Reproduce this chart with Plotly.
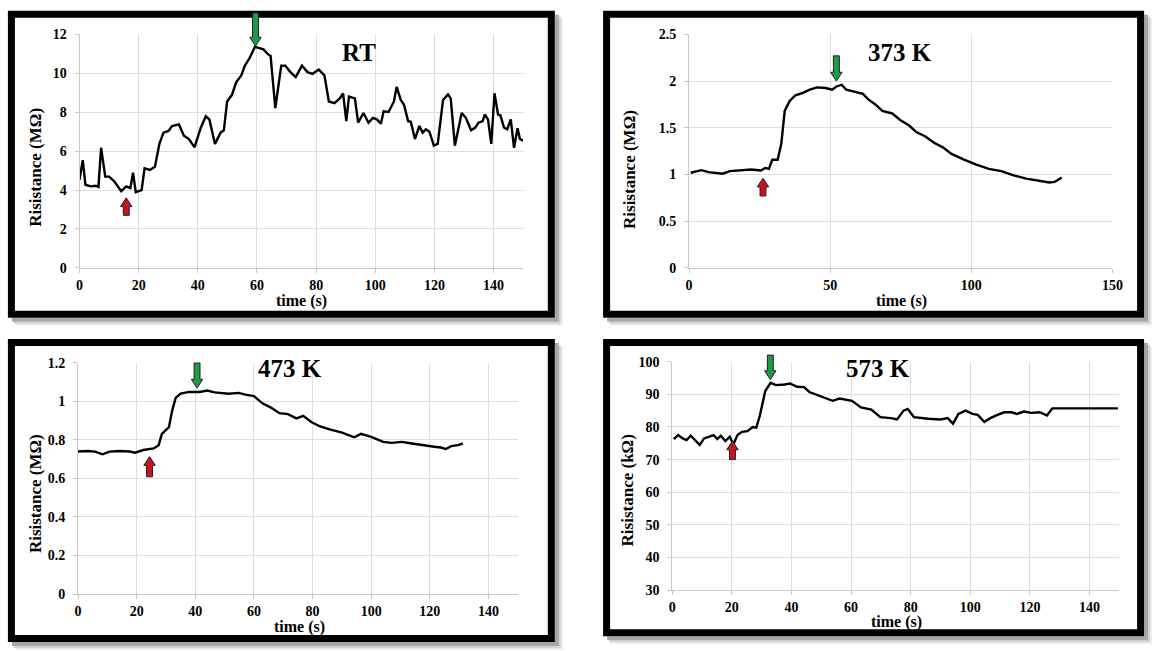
import plotly.graph_objects as go

W, H = 1159, 651

# ---------------- data ----------------
rt_t = [0, 1.1, 2, 3.8, 5.5, 6.4, 7.3, 8.7, 10, 11.8, 14.1, 15.8, 17.2, 18.1, 19, 21, 22, 23.8, 25.5, 27,
        28.4, 30.1, 31.3, 33.6, 35.3, 37, 38.9, 41, 42.7, 43.9, 45.8, 47.7, 48.8, 49.9, 51.5, 53, 54.7, 55.9,
        57.6, 59.3, 60.5, 62.2, 63.7, 64.6, 66.2, 68.2, 69.6, 71.3, 73.1, 75.2, 77.1, 78.8, 80.9, 82.8, 84.3,
        86.2, 88, 89.1, 90.2, 91.1, 93.1, 94.2, 96, 97.7, 99.2, 100.5, 101.9, 102.8, 104.5, 106.3, 107.2,
        108.6, 109.7, 111.1, 112, 113.4, 114.9, 116, 117.1, 118.3, 119.8, 121.1, 122.9, 124.6, 125.5, 126.9,
        129.2, 130.6, 132.4, 133.8, 134.9, 136.3, 137, 138.1, 139.2, 140.3, 141.5, 142.3, 143.5, 144.6,
        145.8, 146.9, 148.1, 148.9, 150]
rt_r = [4.52, 5.53, 4.27, 4.19, 4.22, 4.16, 6.17, 4.69, 4.69, 4.44, 3.94, 4.19, 4.1, 4.89, 3.89, 3.99, 5.11,
        5.03, 5.2, 6.37, 6.95, 7.04, 7.29, 7.37, 6.79, 6.62, 6.2, 7.2, 7.79, 7.63, 6.37, 6.95, 7.07, 8.55,
        8.88, 9.55, 9.89, 10.39, 10.81, 11.36, 11.31, 11.23, 10.98, 10.89, 8.21, 10.39, 10.39, 10.06, 9.8,
        10.39, 10.06, 9.97, 10.19, 9.89, 8.55, 8.46, 8.71, 8.97, 7.54, 8.8, 8.71, 7.46, 7.96, 7.46, 7.71,
        7.63, 7.41, 8.04, 8.01, 8.55, 9.3, 8.63, 8.38, 7.54, 7.51, 6.62, 7.29, 6.95, 7.12, 7.0, 6.28, 6.37,
        8.63, 8.91, 8.71, 6.28, 7.96, 7.71, 7.07, 7.21, 7.46, 7.54, 7.88, 7.63, 6.37, 8.97, 7.88, 7.84, 7.21,
        7.12, 7.63, 6.17, 7.17, 6.62, 6.54]

k373_t = [0.6, 4.4, 6.9, 11.9, 14.5, 18.2, 22, 25.5, 27, 28.3, 29.5, 31.4, 32.7, 33.9, 35.6, 37.7, 40.2,
          42.8, 45.3, 48.4, 50.7, 52.2, 54.1, 55.7, 58.5, 61.6, 63.5, 66, 68.5, 72, 74.8, 78, 80.5, 83.6,
          86.8, 89.9, 93, 97.4, 101.8, 106.2, 110.6, 115, 119.5, 123.9, 127.6, 129.5, 132]
k373_r = [1.018, 1.046, 1.025, 1.008, 1.036, 1.046, 1.053, 1.043, 1.07, 1.06, 1.158, 1.158, 1.332, 1.68,
          1.785, 1.848, 1.872, 1.907, 1.932, 1.925, 1.907, 1.942, 1.96, 1.907, 1.883, 1.862, 1.803, 1.75,
          1.68, 1.653, 1.583, 1.524, 1.454, 1.409, 1.339, 1.29, 1.22, 1.158, 1.105, 1.06, 1.036, 0.99,
          0.955, 0.931, 0.914, 0.92, 0.966]

k473_t = [0, 3.5, 5.8, 8.4, 10.7, 14.2, 17.6, 19.4, 22.3, 25.8, 27.5, 28.6, 31, 32.1, 33.3, 35, 37.9,
          41.4, 44.1, 46.6, 51.3, 54.8, 57.1, 60, 62.9, 65.8, 68.7, 71.6, 74.5, 76.8, 79.7, 82.6, 86.1,
          90.1, 94.2, 96.5, 100, 104.1, 107, 110.4, 113.9, 117.4, 121.5, 123.8, 125.5, 127.3, 129.6, 131.3]
k473_r = [0.739, 0.742, 0.739, 0.725, 0.739, 0.742, 0.739, 0.733, 0.747, 0.755, 0.772, 0.831, 0.865,
          0.95, 1.017, 1.039, 1.048, 1.048, 1.055, 1.046, 1.039, 1.043, 1.034, 1.026, 0.989, 0.967, 0.938,
          0.933, 0.911, 0.924, 0.891, 0.869, 0.853, 0.837, 0.813, 0.831, 0.815, 0.789, 0.784, 0.789, 0.781,
          0.772, 0.764, 0.76, 0.752, 0.767, 0.772, 0.781]

k573_t = [0.5, 2, 3.5, 4.8, 6.2, 8, 9.2, 10.7, 12.7, 13.9, 15.1, 16.3, 17.8, 19.3, 20.5, 21.9, 23.4, 25.2,
          27, 28.2, 29.4, 31.2, 33, 34.8, 37.7, 39.5, 41.9, 44.2, 46, 49, 52, 53.8, 56.1, 60.3, 63.3, 66.8,
          69.8, 73.4, 75.4, 77.6, 79, 81.1, 85.9, 90, 92.4, 94.2, 96, 98.4, 100.7, 102.5, 104.7, 106.7,
          109.1, 111.4, 113.8, 115.6, 118, 120.4, 123.3, 125.7, 127.5, 132.3, 149.5]
k573_r = [76.3, 77.5, 76.5, 76, 77.3, 75.5, 74.5, 76.5, 77, 77.5, 76.3, 77.3, 75.7, 77, 74.7, 77.5, 78.5,
          78.7, 80, 79.8, 83.5, 91, 93.5, 92.8, 93, 93.3, 92.3, 92.2, 90.7, 89.7, 88.5, 88, 88.7, 88, 86,
          85.3, 83, 82.7, 82.3, 85, 85.5, 83, 82.5, 82.3, 82.7, 81, 84, 85, 84, 83.7, 81.5, 82.7, 83.7,
          84.5, 84.5, 84, 84.7, 84.3, 84.5, 83.5, 85.7, 85.7, 85.7]

panel_labels = ["RT", "373 K", "473 K", "573 K"]
y_titles = ["Risistance (M\u03a9)", "Risistance (M\u03a9)", "Risistance (M\u03a9)", "Risistance (k\u03a9)"]
x_title = "time (s)"

x_ticks = [[0, 20, 40, 60, 80, 100, 120, 140], [0, 50, 100, 150],
           [0, 20, 40, 60, 80, 100, 120, 140], [0, 20, 40, 60, 80, 100, 120, 140]]
y_ticks = [[0, 2, 4, 6, 8, 10, 12], [0, 0.5, 1, 1.5, 2, 2.5],
           [0, 0.2, 0.4, 0.6, 0.8, 1, 1.2], [30, 40, 50, 60, 70, 80, 90, 100]]
y_ticktext = [["0", "2", "4", "6", "8", "10", "12"], ["0", "0.5", "1", "1.5", "2", "2.5"],
              ["0", "0.2", "0.4", "0.6", "0.8", "1", "1.2"], ["30", "40", "50", "60", "70", "80", "90", "100"]]
x_ranges = [[0, 150], [0, 150], [0, 150], [0, 150]]
y_ranges = [[0, 12], [0, 2.5], [0, 1.2], [30, 100]]

# label positions (data coords) and arrow (x, tip, tail) in data coords
label_pos = [(94.5, 11.05), (74.7, 2.31), (72.4, 1.17), (69, 98)]
red_arrows = [(15.8, 3.6, 2.7), (26.2, 0.96, 0.77), (24.4, 0.713, 0.608), (20.2, 75.7, 70.0)]
green_arrows = [(59.5, 11.4, 13.1), (52.2, 2.0, 2.27), (40.6, 1.068, 1.198), (32.9, 94.5, 102.0)]

series = [(rt_t, rt_r), (k373_t, k373_r), (k473_t, k473_r), (k573_t, k573_r)]

# ---------------- layout geometry (pixels) ----------------
plot_px = [  # x0, x1, ytop, ybottom
    (76.5, 526, 28, 267),
    (694, 1123, 28, 267),
    (75, 520.5, 364, 601),
    (677, 1130, 363, 597),
]
frame_px = [  # outer x0, x1, y0, y1
    (4, 558, 4, 318),
    (607, 1155, 4, 318),
    (4, 558, 340, 650),
    (607, 1155, 340, 644),
]
ytitle_px = [(32, 164), (633, 166), (32, 498), (632, 495)]
xtitle_px = [(301, 301), (909, 301), (299, 635), (904, 630)]
FRAME_W = 7

SERIF = "Liberation Serif, Times New Roman, serif"


def px2paper(px, py):
    return px / W, 1 - py / H


def data2px(i, xv, yv):
    x0, x1, yt, yb = plot_px[i]
    xr, yr = x_ranges[i], y_ranges[i]
    px = x0 + (xv - xr[0]) / (xr[1] - xr[0]) * (x1 - x0)
    py = yb - (yv - yr[0]) / (yr[1] - yr[0]) * (yb - yt)
    return px, py


def arrow_path(i, xv, ytip, ytail):
    cx, ptip = data2px(i, xv, ytip)
    _, ptail = data2px(i, xv, ytail)
    d = 1 if ptip > ptail else -1
    hl, hw, sw = 9, 5.8, 3.0
    hb = ptip - d * hl
    pts = [(cx - sw, ptail), (cx + sw, ptail), (cx + sw, hb), (cx + hw, hb), (cx, ptip),
           (cx - hw, hb), (cx - sw, hb)]
    s = ""
    for k, (a, b) in enumerate(pts):
        X, Y = px2paper(a, b)
        s += ("M" if k == 0 else "L") + f"{X:.5f},{Y:.5f} "
    return s + "Z"


fig = go.Figure()
shapes = []
annotations = []

for i in range(4):
    fx0, fx1, fy0, fy1 = frame_px[i]
    for off, col in [(8, "#ececec"), (6, "#d0d0d0"), (4, "#a8a8a8")]:
        a, b = px2paper(fx0 + off, fy0 + off)
        c, d = px2paper(fx1 + off, fy1 + off)
        shapes.append(dict(type="rect", xref="paper", yref="paper", x0=a, y0=b, x1=c, y1=d,
                           fillcolor=col, line=dict(width=0), layer="below"))
    a, b = px2paper(fx0, fy0)
    c, d = px2paper(fx1, fy1)
    shapes.append(dict(type="rect", xref="paper", yref="paper", x0=a, y0=b, x1=c, y1=d,
                       fillcolor="white", line=dict(width=0), layer="below"))
    h = FRAME_W / 2
    a, b = px2paper(fx0 + h, fy0 + h)
    c, d = px2paper(fx1 - h, fy1 - h)
    shapes.append(dict(type="rect", xref="paper", yref="paper", x0=a, y0=b, x1=c, y1=d,
                       line=dict(color="black", width=FRAME_W), layer="above"))

    n = "" if i == 0 else str(i + 1)
    t, r = series[i]
    fig.add_trace(go.Scatter(x=t, y=r, mode="lines", line=dict(color="black", width=2.4),
                             xaxis="x" + n, yaxis="y" + n, showlegend=False, hoverinfo="skip"))

    x0, x1, yt, yb = plot_px[i]
    tickfont = dict(family=SERIF, size=14, color="black", weight="bold")
    ax = dict(domain=[x0 / W, x1 / W], range=x_ranges[i], anchor="y" + n,
              tickvals=x_ticks[i], ticktext=[str(v) for v in x_ticks[i]],
              showgrid=True, gridcolor="#dedede", gridwidth=1, zeroline=False,
              showline=True, linecolor="#c8c8c8", linewidth=1, ticks="outside", ticklen=4,
              tickcolor="#c8c8c8", tickfont=tickfont)
    ay = dict(domain=[1 - yb / H, 1 - yt / H], range=y_ranges[i], anchor="x" + n,
              tickvals=y_ticks[i], ticktext=y_ticktext[i],
              showgrid=True, gridcolor="#dedede", gridwidth=1, zeroline=False,
              showline=True, linecolor="#c8c8c8", linewidth=1, ticks="outside", ticklen=4,
              tickcolor="#c8c8c8", tickfont=tickfont, ticklabelstandoff=5)
    fig.update_layout(**{"xaxis" + n: ax, "yaxis" + n: ay})

    titlefont = dict(family=SERIF, size=16, color="black", weight="bold")
    tx, ty = px2paper(*ytitle_px[i])
    annotations.append(dict(x=tx, y=ty, xref="paper", yref="paper", text=y_titles[i], textangle=-90,
                            showarrow=False, xanchor="center", yanchor="middle",
                            font=dict(family=SERIF, size=17, color="black", weight="bold")))
    tx, ty = px2paper(*xtitle_px[i])
    annotations.append(dict(x=tx, y=ty, xref="paper", yref="paper", text=x_title,
                            showarrow=False, xanchor="center", yanchor="middle", font=titlefont))

    lx, ly = label_pos[i]
    annotations.append(dict(x=lx, y=ly, xref="x" + n, yref="y" + n, text=panel_labels[i],
                            showarrow=False,
                            font=dict(family=SERIF, size=25, color="black", weight="bold")))

    for (xa, tip, tail), fill in [(red_arrows[i], "#c8141e"), (green_arrows[i], "#1f9a48")]:
        shapes.append(dict(type="path", xref="paper", yref="paper", path=arrow_path(i, xa, tip, tail),
                           fillcolor=fill, line=dict(color="#202020", width=1), layer="above"))

fig.update_layout(width=W, height=H, margin=dict(l=0, r=0, t=0, b=0),
                  paper_bgcolor="white", plot_bgcolor="rgba(0,0,0,0)",
                  shapes=shapes, annotations=annotations, showlegend=False)

fig.write_html("out.html", config={"displayModeBar": False},
               post_script="document.body.style.margin='0';document.body.style.overflow='hidden';")
